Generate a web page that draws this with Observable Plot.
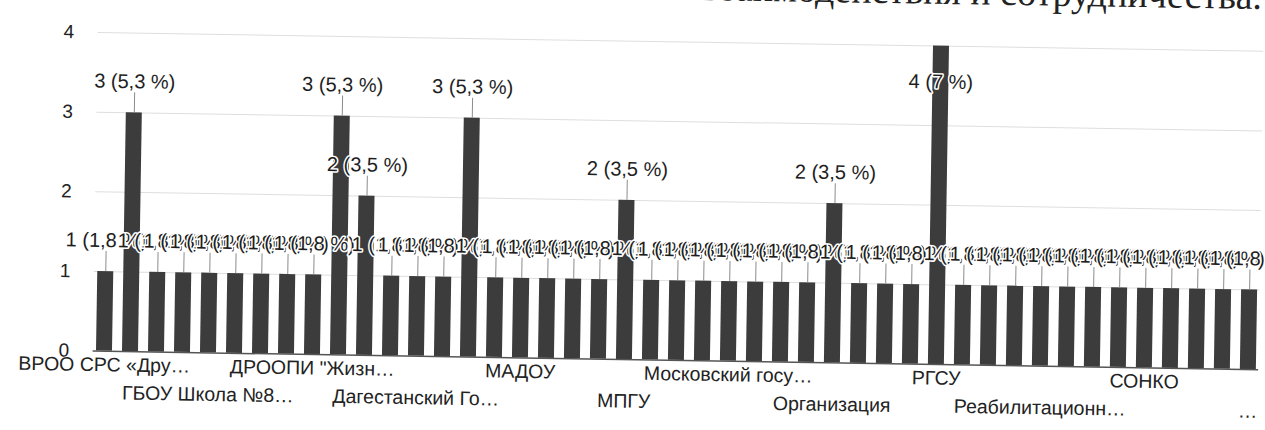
<!DOCTYPE html>
<html>
<head>
<meta charset="utf-8">
<script src="https://cdn.jsdelivr.net/npm/d3@7"></script>
<script src="https://cdn.jsdelivr.net/npm/@observablehq/plot@0.6"></script>
<style>
  html, body { margin: 0; padding: 0; background: #fff; overflow: hidden; width: 1265px; height: 430px; }
  #wrap { position: relative; width: 1265px; height: 430px; overflow: hidden; }
  #chart { position: absolute; left: 0; top: 0; transform-origin: 92px 350px; transform: rotate(0.92deg); }
  #note { position: absolute; right: 3px; top: -23px; font-family: "Liberation Serif", serif; font-size: 38px; line-height: 38px; white-space: nowrap; color: #222; transform-origin: 100% 50%; transform: rotate(0.92deg); }
</style>
</head>
<body>
<div id="wrap">
  <div id="note">взаимодействия и сотрудничества.</div>
  <div id="chart"></div>
</div>
<script>
// Bar positions (1..45), in the order shown in the picture
const barIndex = [1,2,3,4,5,6,7,8,9,10,11,12,13,14,15,16,17,18,19,20,21,22,23,24,25,26,27,28,29,30,31,32,33,34,35,36,37,38,39,40,41,42,43,44,45];
// Counts per organisation
const values = [1,3,1,1,1,1,1,1,1,3,2,1,1,1,3,1,1,1,1,1,2,1,1,1,1,1,1,1,2,1,1,1,4,1,1,1,1,1,1,1,1,1,1,1,1];
// Category labels that are visible (every 4th bar, two staggered rows)
const tickIndex  = [1, 5, 9, 13, 17, 21, 25, 29, 33, 37, 41, 45];
const tickLabels = ["ВРОО СРС «Дру…", "ГБОУ Школа №8…", "ДРООПИ \"Жизн…", "Дагестанский Го…", "МАДОУ", "МПГУ",
                    "Московский госу…", "Организация", "РГСУ", "Реабилитационн…", "СОНКО", "…"];
const yTicks = [0, 1, 2, 3, 4];

const total = d3.sum(values);
const fmtPct = p => {
  const r = Math.round(p * 10) / 10;
  return (Number.isInteger(r) ? String(r) : r.toFixed(1)).replace(".", ",");
};
const bars = barIndex.map((i, k) => ({
  i, value: values[k], label: `${values[k]} (${fmtPct(values[k] / total * 100)} %)`
}));
const ticks = tickIndex.map((i, k) => ({i, label: tickLabels[k], row: k % 2}));

const W = 1265, H = 430, MT = 32, MB = 79.5, ML = 92.6, MR = 6.7;
const yMax = 4;
const pxPerUnit = (H - MT - MB) / yMax;
const leaderLen = 20 / pxPerUnit;
const maxV = d3.max(values);

const chart = Plot.plot({
  width: W, height: H,
  marginTop: MT, marginBottom: MB, marginLeft: ML, marginRight: MR,
  style: {fontFamily: "'Liberation Sans', Arial, sans-serif", background: "transparent", color: "#222"},
  x: {type: "band", domain: barIndex, paddingInner: 0.4, paddingOuter: 0.1, axis: null},
  y: {domain: [0, yMax]},
  marks: [
    Plot.ruleY([1, 2, 3, 4], {stroke: "#dedede", strokeWidth: 1}),
    Plot.barY(bars, {x: "i", y: "value", fill: "#3c3c3c"}),
    Plot.ruleX(bars.filter(d => d.value < maxV), {x: "i", y1: "value", y2: d => d.value + leaderLen, stroke: "#8c8c8c", strokeWidth: 1}),
    Plot.text(bars.filter(d => d.value < maxV), {x: "i", y: "value", text: "label", dy: -31, fontSize: 20, fill: "#1e1e1e", stroke: "white", strokeWidth: 3}),
    Plot.text(bars.filter(d => d.value === maxV), {x: "i", y: "value", text: "label", dy: 36, fontSize: 20, fill: "#1e1e1e", stroke: "white", strokeWidth: 3}),
    Plot.ruleY([0], {stroke: "#555", strokeWidth: 1.5}),
    Plot.axisY({ticks: yTicks, tickFormat: d => String(d), tickSize: 0, tickPadding: 24, fontSize: 19, color: "#222", label: null}),
    Plot.text(ticks.filter(d => d.row === 0), {x: "i", text: "label", frameAnchor: "bottom", dy: 20, fontSize: 19.5, fill: "#222"}),
    Plot.text(ticks.filter(d => d.row === 1), {x: "i", text: "label", frameAnchor: "bottom", dy: 48, fontSize: 19.5, fill: "#222"})
  ]
});
document.getElementById("chart").appendChild(chart);
</script>
</body>
</html>
